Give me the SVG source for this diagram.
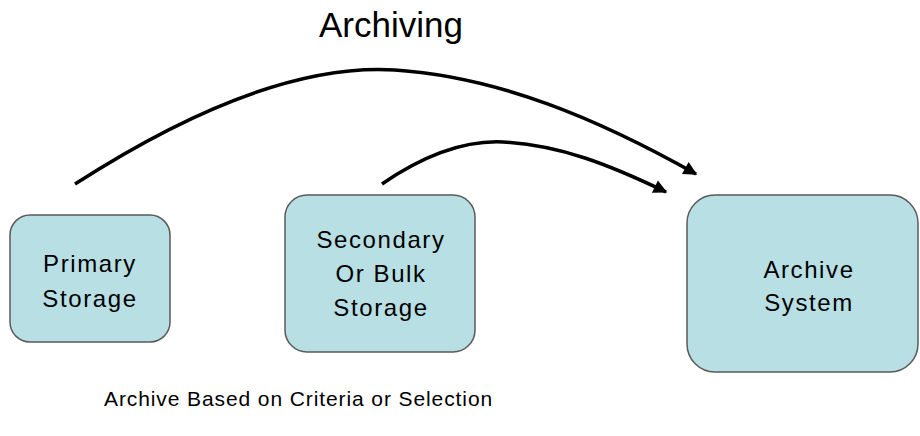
<svg xmlns="http://www.w3.org/2000/svg" width="920" height="436" viewBox="0 0 920 436">
<style>
.box{fill:#b8dfe3;stroke:#5a5a5a;stroke-width:1.5}
.t{font-family:"Liberation Sans",Arial,sans-serif;font-size:24px;fill:#000;text-anchor:middle;letter-spacing:1.6px}
.title{font-family:"Liberation Sans",Arial,sans-serif;font-size:35px;fill:#000;text-anchor:middle}
.note{font-family:"Liberation Sans",Arial,sans-serif;font-size:21px;fill:#000;letter-spacing:0.9px}
.arc{fill:none;stroke:#000;stroke-width:3.5;marker-end:url(#ah)}
</style>
<defs>
<marker id="ah" viewBox="0 0 10 10" refX="9" refY="5" markerWidth="4.6" markerHeight="3.9" orient="auto" markerUnits="strokeWidth">
<path d="M0,0 L10,5 L0,10 z" fill="#000"/>
</marker>
</defs>
<text class="title" x="391" y="37">Archiving</text>
<g id="connectors">
<path class="arc" d="M75,184 C190,110 300,64 395,70 C500,77 600,120 696,174"/>
<path class="arc" d="M382,184 C420,158 460,140 503,142 C560,145 610,165 666,192"/>
</g>
<g id="primary">
<rect class="box" x="10" y="215" width="160" height="127" rx="20"/>
<text class="t" x="90" y="272">Primary</text>
<text class="t" x="90" y="307">Storage</text>
</g>
<g id="secondary">
<rect class="box" x="285" y="195" width="190" height="157" rx="22"/>
<text class="t" x="381" y="248">Secondary</text>
<text class="t" x="381" y="282">Or Bulk</text>
<text class="t" x="381" y="316">Storage</text>
</g>
<g id="archive">
<rect class="box" x="687" y="195" width="231" height="177" rx="28"/>
<text class="t" x="809" y="278">Archive</text>
<text class="t" x="809" y="311">System</text>
</g>
<text class="note" x="104" y="406">Archive Based on Criteria or Selection</text>
</svg>
